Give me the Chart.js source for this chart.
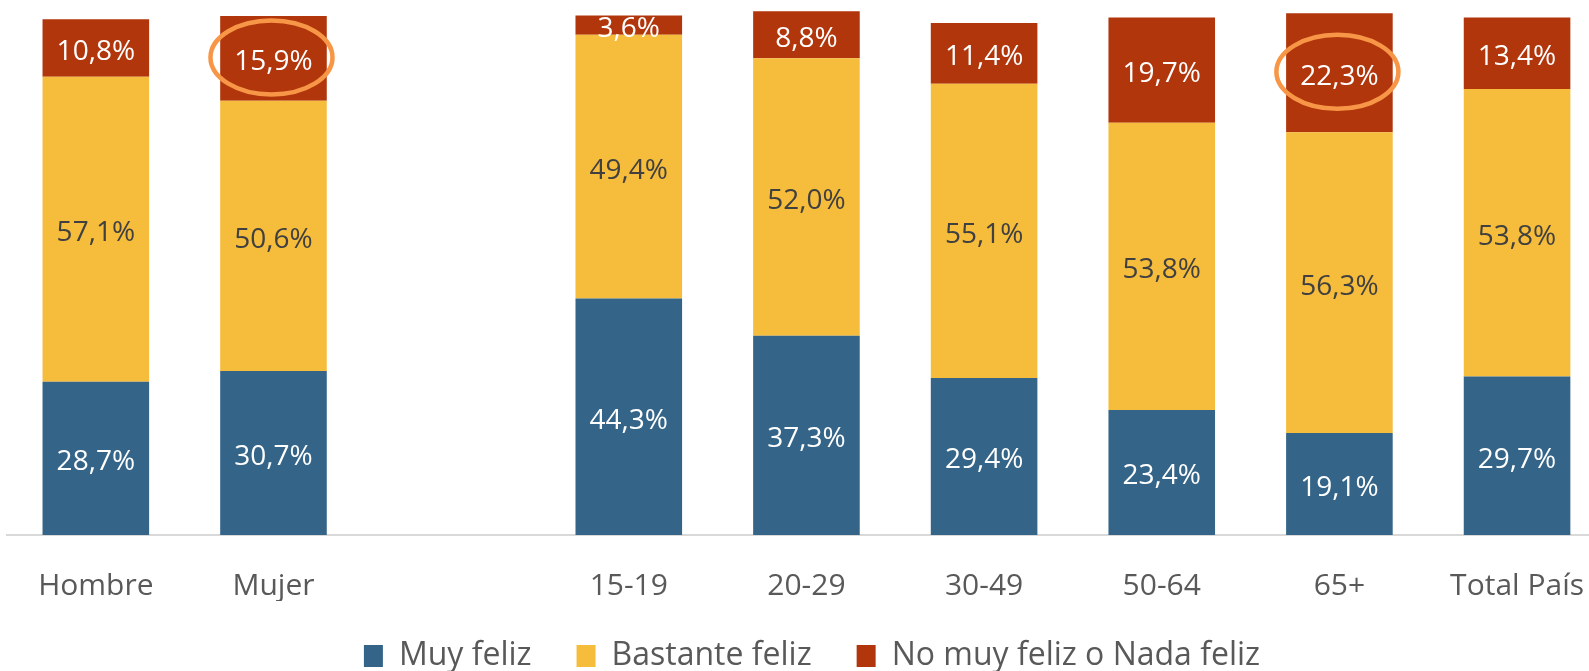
<!DOCTYPE html>
<html>
<head>
<meta charset="utf-8">
<script src="https://cdn.jsdelivr.net/npm/chart.js@4/dist/chart.umd.min.js"></script>
<style>
  html, body { margin: 0; padding: 0; background: #fff; overflow: hidden; }
  #wrap { width: 1617px; height: 671px; }
</style>
</head>
<body>
<div id="wrap"><canvas id="happyChart" width="1617" height="671"></canvas></div>
<script>
// categories (third slot is an empty gap between sex and age groups)
const categories = ['Hombre', 'Mujer', '', '15-19', '20-29', '30-49', '50-64', '65+', 'Total País'];

const muyFeliz      = [28.7, 30.7, null, 44.3, 37.3, 29.4, 23.4, 19.1, 29.7];
const bastanteFeliz = [57.1, 50.6, null, 49.4, 52.0, 55.1, 53.8, 56.3, 53.8];
const noMuyFeliz    = [10.8, 15.9, null, 3.6, 8.8, 11.4, 19.7, 22.3, 13.4];

const seriesNames = ['Muy feliz', 'Bastante feliz', 'No muy feliz o Nada feliz'];
const highlighted = ['Mujer', '65+'];   // circled values of the last series

const FONT = "'Open Sans', 'DejaVu Sans', sans-serif";

function fmt(v) {
    return v.toFixed(1).replace('.', ',') + '%';
}

// writes the value in the middle of every stacked segment
const segmentLabels = {
    id: 'segmentLabels',
    afterDatasetsDraw(chart) {
        const ctx = chart.ctx;
        ctx.save();
        ctx.font = '28px ' + FONT;
        ctx.textAlign = 'center';
        ctx.textBaseline = 'middle';
        chart.data.datasets.forEach((ds, di) => {
            const meta = chart.getDatasetMeta(di);
            meta.data.forEach((bar, i) => {
                const v = ds.data[i];
                if (v == null) return;
                const p = bar.getProps(['x', 'y', 'base'], true);
                ctx.fillStyle = ds.labelColor;
                ctx.fillText(fmt(v), p.x, (p.y + p.base) / 2 + 4);
            });
        });
        ctx.restore();
    }
};

// orange rings around the highlighted values
const rings = {
    id: 'rings',
    afterDatasetsDraw(chart) {
        const ctx = chart.ctx;
        const meta = chart.getDatasetMeta(2);
        ctx.save();
        ctx.strokeStyle = '#F79646';
        ctx.lineWidth = 4.5;
        highlighted.forEach(name => {
            const i = categories.indexOf(name);
            const p = meta.data[i].getProps(['x', 'y', 'base'], true);
            ctx.beginPath();
            ctx.ellipse(p.x - 2, (p.y + p.base) / 2 - 1, 61, 37, 0, 0, Math.PI * 2);
            ctx.stroke();
        });
        ctx.restore();
    }
};

// short legend band in the layout, then moved into place
const legendFit = {
    id: 'legendFit',
    beforeLayout(chart) {
        const lg = chart.legend;
        if (lg && !lg._fitPatched) {
            const fit = lg.fit;
            lg.fit = function () {
                fit.call(this);
                this.height = 70;
            };
            lg._fitPatched = true;
        }
    },
    afterLayout(chart) {
        const lg = chart.legend;
        lg.top = 595;
        lg.bottom = 595 + 80;
        lg.height = 80;
    }
};

new Chart(document.getElementById('happyChart'), {
    type: 'bar',
    data: {
        labels: categories,
        datasets: [
            { label: seriesNames[0], data: muyFeliz, backgroundColor: '#346488', labelColor: '#ffffff' },
            { label: seriesNames[1], data: bastanteFeliz, backgroundColor: '#F6BC3B', labelColor: '#404040' },
            { label: seriesNames[2], data: noMuyFeliz, backgroundColor: '#B1360C', labelColor: '#ffffff' }
        ]
    },
    options: {
        responsive: false,
        animation: false,
        layout: { padding: { left: 7, top: 1, right: 0, bottom: 0 } },
        datasets: { bar: { categoryPercentage: 1, barPercentage: 0.6 } },
        scales: {
            x: {
                stacked: true,
                grid: { display: false, drawTicks: false },
                border: { display: true, color: '#d9d9d9', width: 2 },
                ticks: { color: '#595959', font: { family: FONT, size: 30 }, padding: 33, maxRotation: 0, autoSkip: false },
                afterFit: scale => { scale.height = 66; }
            },
            y: {
                stacked: true,
                display: false,
                min: 0,
                max: 100
            }
        },
        plugins: {
            legend: {
                position: 'bottom',
                labels: {
                    color: '#595959',
                    font: { family: FONT, size: 32 },
                    boxWidth: 19,
                    boxHeight: 22,
                    padding: 45
                }
            },
            tooltip: { enabled: false }
        }
    },
    plugins: [legendFit, segmentLabels, rings]
});
</script>
</body>
</html>
